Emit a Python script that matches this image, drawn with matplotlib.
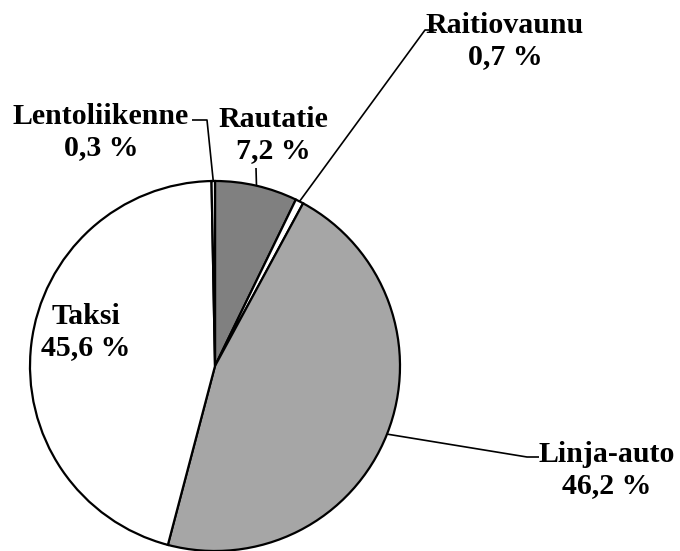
import numpy as np
import matplotlib
matplotlib.use('Agg')
import matplotlib.pyplot as plt

categories = ['Rautatie', 'Raitiovaunu', 'Linja-auto', 'Taksi', 'Lentoliikenne']
values = [7.2, 0.7, 46.2, 45.6, 0.3]
value_labels = ['7,2 %', '0,7 %', '46,2 %', '45,6 %', '0,3 %']
colors = ['#808080', '#ffffff', '#a6a6a6', '#ffffff', '#ffffff']

W, H = 680, 551
fig = plt.figure(figsize=(6.8, 5.51), dpi=100)
ax = fig.add_axes([0, 0, 1, 1])

cx, cy, r = 215, H - 366, 185
wedges, _ = ax.pie(values, colors=colors, startangle=90, counterclock=False,
                   center=(cx, cy), radius=r, frame=True,
                   wedgeprops=dict(edgecolor='black', linewidth=1.6))
ax.set_xlim(0, W)
ax.set_ylim(0, H)
ax.set_aspect('equal')
ax.axis('off')

font = dict(family=['Liberation Serif', 'DejaVu Serif'], fontweight='bold',
            fontsize=21.5, ha='center', va='center', linespacing=1.2)

def edge_point(w):
    a = np.deg2rad((w.theta1 + w.theta2) / 2)
    return cx + r * np.cos(a), cy + r * np.sin(a)

# label centre (px from top-left) and leader path from text side to wedge
layout = {
    'Rautatie': ((273, 135), [(256, 168)]),
    'Raitiovaunu': ((505, 41), [(437, 30), (425, 30)]),
    'Linja-auto': ((607, 470), [(539, 457), (527, 457)]),
    'Taksi': ((86, 332), None),
    'Lentoliikenne': ((101, 132), [(192, 120), (207, 120)]),
}

for w, cat, lab in zip(wedges, categories, value_labels):
    (tx, ty), path = layout[cat]
    ax.text(tx, H - ty, cat + '\n' + lab, color='black', **font)
    if path:
        px = [p[0] for p in path]
        py = [H - p[1] for p in path]
        ex, ey = edge_point(w)
        px.append(ex)
        py.append(ey)
        ax.plot(px, py, color='black', lw=1.2, solid_capstyle='butt')

fig.savefig('out.png', dpi=100)
